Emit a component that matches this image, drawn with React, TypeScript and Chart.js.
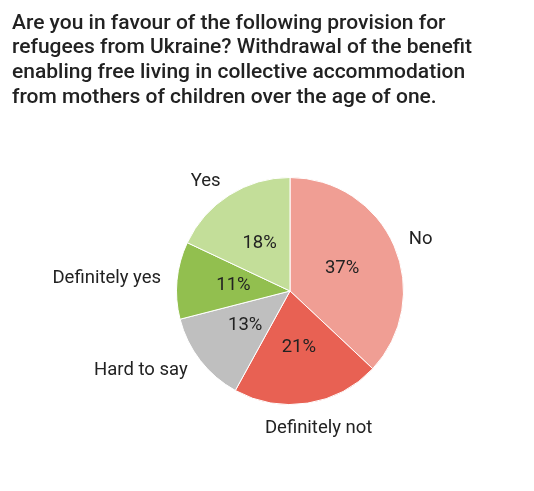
import React, { useEffect, useRef } from "react";
import { Chart, registerables } from "chart.js";

Chart.register(...registerables);

const titleLines = [
  "Are you in favour of the following provision for",
  "refugees from Ukraine? Withdrawal of the benefit",
  "enabling free living in collective accommodation",
  "from mothers of children over the age of one.",
];
const categories = ["No", "Definitely not", "Hard to say", "Definitely yes", "Yes"];
const shares = [37, 21, 13, 11, 18];
const sliceColors = ["#f09e94", "#e86153", "#bfbfbf", "#92bf4f", "#c3de99"];

const FONT = "Roboto, 'Liberation Sans', sans-serif";

const labelsPlugin = {
  id: "pieLabels",
  afterDraw(chart: any) {
    const ctx = chart.ctx;
    const meta = chart.getDatasetMeta(0);
    ctx.save();
    // title
    ctx.fillStyle = "#222222";
    ctx.font = `500 21px ${FONT}`;
    ctx.textAlign = "left";
    ctx.textBaseline = "alphabetic";
    titleLines.forEach((line, i) => ctx.fillText(line, 12, 28.5 + i * 24.8));

    meta.data.forEach((arc: any, i: number) => {
      const { x, y, startAngle, endAngle, outerRadius } = arc.getProps(
        ["x", "y", "startAngle", "endAngle", "outerRadius"],
        true
      );
      const mid = (startAngle + endAngle) / 2;
      const cos = Math.cos(mid);
      const sin = Math.sin(mid);
      // value inside the slice
      ctx.font = `18.5px ${FONT}`;
      ctx.fillStyle = "#222222";
      ctx.textAlign = "center";
      ctx.textBaseline = "middle";
      const ri = outerRadius * 0.5;
      ctx.fillText(`${shares[i]}%`, x + cos * ri, y + sin * ri);
      // category outside the slice
      const ro = outerRadius + 16;
      let px = x + cos * ro;
      const py = y + sin * ro;
      if (Math.abs(cos) < 0.3) {
        const w = ctx.measureText(categories[i]).width;
        px += cos * w * 0.5;
        ctx.textAlign = "center";
        ctx.textBaseline = sin > 0 ? "top" : "bottom";
      } else {
        ctx.textAlign = cos > 0 ? "left" : "right";
        ctx.textBaseline = "middle";
      }
      ctx.fillText(categories[i], px, py);
    });
    ctx.restore();
  },
};

export default function App() {
  const ref = useRef<HTMLCanvasElement>(null);
  useEffect(() => {
    document.body.style.margin = "0";
    const chart = new Chart(ref.current!, {
      type: "pie",
      data: {
        labels: categories,
        datasets: [
          {
            data: shares,
            backgroundColor: sliceColors,
            borderColor: "#ffffff",
            borderWidth: 1,
          },
        ],
      },
      options: {
        responsive: false,
        animation: false,
        layout: { padding: { left: 176, right: 130, top: 177, bottom: 86 } },
        plugins: {
          legend: { display: false },
          tooltip: { enabled: false },
          title: { display: false },
        },
      },
      plugins: [labelsPlugin],
    });
    return () => chart.destroy();
  }, []);
  return (
    <div style={{ width: 534, height: 491, background: "#ffffff" }}>
      <canvas ref={ref} width={534} height={491} />
    </div>
  );
}
